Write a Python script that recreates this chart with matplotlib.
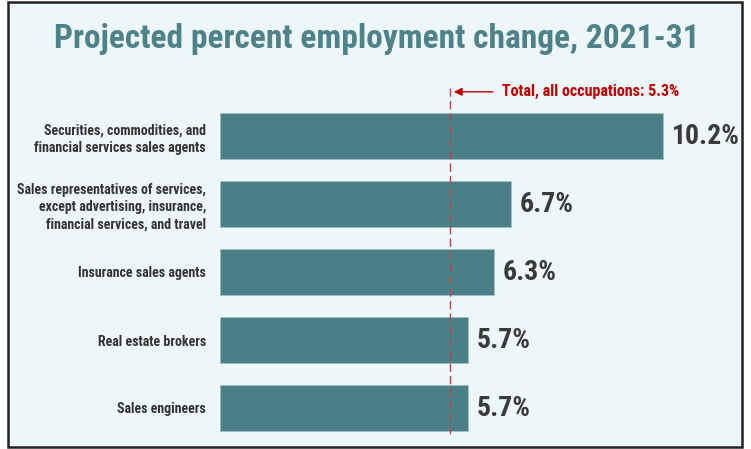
import matplotlib
matplotlib.use('Agg')
import matplotlib.pyplot as plt
from matplotlib.patches import Rectangle

plt.rcParams['font.family'] = ['Roboto Condensed', 'Open Sans', 'DejaVu Sans']

occupations = [
    'Securities, commodities, and\nfinancial services sales agents',
    'Sales representatives of services,\nexcept advertising, insurance,\nfinancial services, and travel',
    'Insurance sales agents',
    'Real estate brokers',
    'Sales engineers',
]
pct_change = [10.2, 6.7, 6.3, 5.7, 5.7]
total_all = 5.3

bg = '#edf6f8'
teal = '#4a7f85'
red = '#c00000'

fig = plt.figure(figsize=(7.51, 4.49), dpi=100)
fig.patch.set_facecolor('white')
fig.patches.append(Rectangle((8 / 751, 2 / 449), 734 / 751, 445 / 449,
                             transform=fig.transFigure, facecolor=bg,
                             edgecolor='#222222', linewidth=1.8, zorder=0))

fig.text(377 / 751, 1 - 39 / 449, 'Projected percent employment change, 2021-31',
         ha='center', va='center', fontsize=24, fontweight='bold', color='#4f8288')

# axes: x from 220px to 742px, y from 102px to 442px
ax = fig.add_axes([220 / 751, 1 - 442 / 449, 522 / 751, 340 / 449], zorder=2)
ax.set_facecolor('none')
ypos = list(range(len(occupations)))
ax.barh(ypos, pct_change, height=0.68, color=teal, edgecolor='#9fc3c6', linewidth=0.6)
ax.set_xlim(0, 12.02)
ax.set_ylim(4.5, -0.5)
for s in ax.spines.values():
    s.set_visible(False)
ax.set_xticks([])
ax.set_yticks(ypos)
ax.set_yticklabels(occupations, fontsize=10, fontweight='bold', color='#333333',
                   linespacing=1.3)
ax.tick_params(axis='y', length=0, pad=10)

for y, v in zip(ypos, pct_change):
    ax.text(v + 0.2, y, f'{v}%', va='center', ha='left', fontsize=20,
            fontweight='bold', color='#3a3a3a')

ax.plot([total_all, total_all], [-0.71, 4.40], color='#b8434c', linestyle=(0, (6, 3)),
        linewidth=1.0, clip_on=False, zorder=3)
ax.annotate('', xy=(total_all + 0.02, -0.65), xytext=(total_all + 1.05, -0.65),
            arrowprops=dict(arrowstyle='-|>', color=red, lw=1.0, mutation_scale=12),
            annotation_clip=False)
ax.text(total_all + 1.2, -0.65, f'Total, all occupations: {total_all}%', va='center',
        ha='left', fontsize=11.5, fontweight='bold', color=red, clip_on=False)

fig.savefig('out.png', dpi=100, facecolor=fig.get_facecolor())
